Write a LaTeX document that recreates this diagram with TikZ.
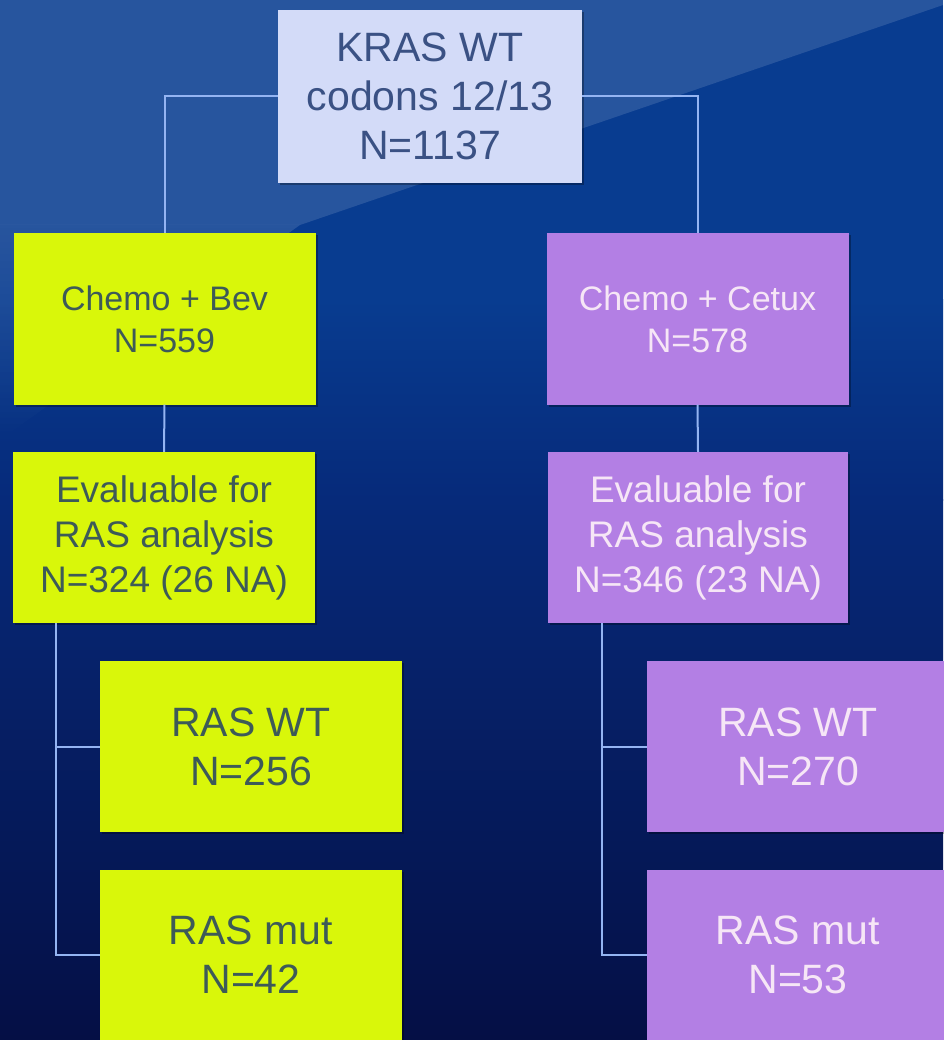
\documentclass[tikz,border=0pt]{standalone}
\usepackage{fontspec}
\setmainfont{Liberation Sans}
\usetikzlibrary{fadings,shadows}
\definecolor{bgtop}{HTML}{083C90}
\definecolor{bgmid}{HTML}{062A7A}
\definecolor{bgbot}{HTML}{050F45}
\definecolor{yel}{HTML}{D9F70A}
\definecolor{pur}{HTML}{B37FE4}
\definecolor{lav}{HTML}{D3DBF8}
\definecolor{ytext}{HTML}{3D5A58}
\definecolor{ltext}{HTML}{3A5184}
\definecolor{ptext}{HTML}{F6E6F6}
\definecolor{conn}{HTML}{94B4F2}
\tikzset{
  box/.style={rectangle, inner sep=0pt, minimum width=302pt, minimum height=171pt,
    align=center, general shadow={fill=black, opacity=0.3, shadow xshift=2pt, shadow yshift=-2pt}},
  ybox/.style={box, fill=yel, text=ytext},
  pbox/.style={box, fill=pur, text=ptext},
  tbox/.style={box, fill=lav, text=ltext, minimum width=304pt, minimum height=173pt},
  fbig/.style={font=\fontsize{41}{49}\selectfont},
  fmid/.style={font=\fontsize{37}{45}\selectfont},
  fsmall/.style={font=\fontsize{34}{42}\selectfont},
  link/.style={draw=conn, line width=2pt}
}
\begin{document}
\begin{tikzpicture}[x=1pt,y=-1pt]
\useasboundingbox (0,0) rectangle (943,1040);
% background
\fill[bgtop] (0,0) rectangle (943,300);
\shade[top color=bgtop, bottom color=bgmid] (0,299) rectangle (943,500);
\shade[top color=bgmid, bottom color=bgbot] (0,499) rectangle (943,1040);
\fill[white, fill opacity=0.13] (0,0) -- (943,0) -- (943,5) -- (300,225) -- (0,225) -- cycle;
\fill[white, fill opacity=0.13, path fading=south] (0,225) -- (300,225) -- (0,440) -- cycle;

% nodes
\node[tbox, fbig] (top) at (430,96.5) {KRAS WT\\codons 12/13\\N=1137};
\node[ybox, fsmall] (L1) at (164.5,319) {Chemo + Bev\\N=559};
\node[pbox, fsmall] (R1) at (697.5,319) {Chemo + Cetux\\N=578};
\node[ybox, fmid] (L2) at (164,537.5) {Evaluable for\\RAS analysis\\N=324 (26 NA)};
\node[pbox, fmid, minimum width=300pt] (R2) at (698,537.5) {Evaluable for\\RAS analysis\\N=346 (23 NA)};
\node[ybox, fbig] (L3) at (251,746.5) {RAS WT\\N=256};
\node[ybox, fbig] (L4) at (251,955) {RAS mut\\N=42};
\node[pbox, fbig] (R3) at (798,746.5) {RAS WT\\N=270};
\node[pbox, fbig] (R4) at (798,955) {RAS mut\\N=53};

% connectors
\draw[link] (top.west) -| (L1.north);
\draw[link] (top.east) -| (R1.north);
\draw[link] (L1.south) -- (L2.north);
\draw[link] (R1.south) -- (R2.north);
\coordinate (lb) at ([xshift=-108pt]L2.south);
\coordinate (rb) at ([xshift=-96pt]R2.south);
\draw[link] (lb) |- (L4.west);
\draw[link] (lb |- L3.west) -- (L3.west);
\draw[link] (rb) |- (R4.west);
\draw[link] (rb |- R3.west) -- (R3.west);
\end{tikzpicture}
\end{document}
